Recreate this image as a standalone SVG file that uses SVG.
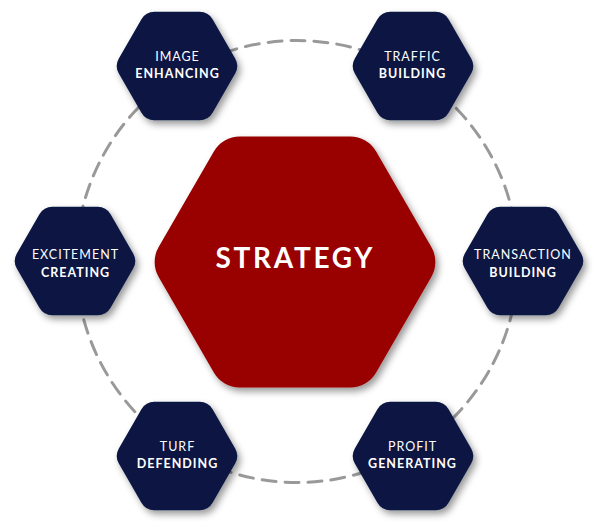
<svg xmlns="http://www.w3.org/2000/svg" width="600" height="529" viewBox="0 0 600 529">
  <style>
    .hexs { fill: #081843; filter: url(#shadow); }
    .hexb { fill: #990000; filter: url(#shadow); }
    .l1 { font-family: Lato, "Liberation Sans", sans-serif; font-size: 12.5px; font-weight: 400; fill: #ffffff; text-anchor: middle; letter-spacing: 1px; }
    .l2 { font-family: Lato, "Liberation Sans", sans-serif; font-size: 12.5px; font-weight: 700; fill: #ffffff; text-anchor: middle; letter-spacing: 1px; }
    .big { font-family: Lato, "Liberation Sans", sans-serif; font-size: 28px; font-weight: 700; fill: #ffffff; text-anchor: middle; }
    .ring { fill: none; stroke: #999999; stroke-width: 3; stroke-dasharray: 14 9; stroke-linecap: round; }
  </style>
  <defs>
    <filter id="shadow" x="-20%" y="-20%" width="140%" height="140%">
      <feDropShadow dx="3" dy="4" stdDeviation="3.5" flood-color="#000000" flood-opacity="0.4"/>
    </filter>
    <path id="hexS" d="M58.17,7.5 L35.58,46.63 A15,15 0 0 1 22.59,54.13 L-22.59,54.13 A15,15 0 0 1 -35.58,46.63 L-58.17,7.5 A15,15 0 0 1 -58.17,-7.5 L-35.58,-46.63 A15,15 0 0 1 -22.59,-54.13 L22.59,-54.13 A15,15 0 0 1 35.58,-46.63 L58.17,-7.5 A15,15 0 0 1 58.17,7.5 Z"/>
  </defs>
  <rect width="600" height="529" fill="#ffffff"/>
  <g id="connectors">
    <circle class="ring" cx="297" cy="261.5" r="221"/>
  </g>
  <g id="strategy">
    <path class="hexb" transform="translate(295,262)" d="M136.34,15 L81.16,110.57 A30,30 0 0 1 55.18,125.57 L-55.18,125.57 A30,30 0 0 1 -81.16,110.57 L-136.34,15 A30,30 0 0 1 -136.34,-15 L-81.16,-110.57 A30,30 0 0 1 -55.18,-125.57 L55.18,-125.57 A30,30 0 0 1 81.16,-110.57 L136.34,-15 A30,30 0 0 1 136.34,15 Z"/>
    <text class="big" x="294" y="267.5" textLength="157" lengthAdjust="spacing">STRATEGY</text>
  </g>
  <g id="image-enhancing">
    <use href="#hexS" class="hexs" x="177" y="66"/>
    <text class="l1" x="177.5" y="61">IMAGE</text>
    <text class="l2" x="177.5" y="78">ENHANCING</text>
  </g>
  <g id="traffic-building">
    <use href="#hexS" class="hexs" x="413" y="66"/>
    <text class="l1" x="412.5" y="61">TRAFFIC</text>
    <text class="l2" x="412.5" y="78">BUILDING</text>
  </g>
  <g id="excitement-creating">
    <use href="#hexS" class="hexs" x="75" y="261"/>
    <text class="l1" x="75.5" y="259">EXCITEMENT</text>
    <text class="l2" x="75.5" y="277">CREATING</text>
  </g>
  <g id="transaction-building">
    <use href="#hexS" class="hexs" x="523" y="261"/>
    <text class="l1" x="523" y="259">TRANSACTION</text>
    <text class="l2" x="523" y="277">BUILDING</text>
  </g>
  <g id="turf-defending">
    <use href="#hexS" class="hexs" x="177" y="456"/>
    <text class="l1" x="177.5" y="451">TURF</text>
    <text class="l2" x="177.5" y="468">DEFENDING</text>
  </g>
  <g id="profit-generating">
    <use href="#hexS" class="hexs" x="413" y="456"/>
    <text class="l1" x="412.5" y="451">PROFIT</text>
    <text class="l2" x="412.5" y="468">GENERATING</text>
  </g>
</svg>
